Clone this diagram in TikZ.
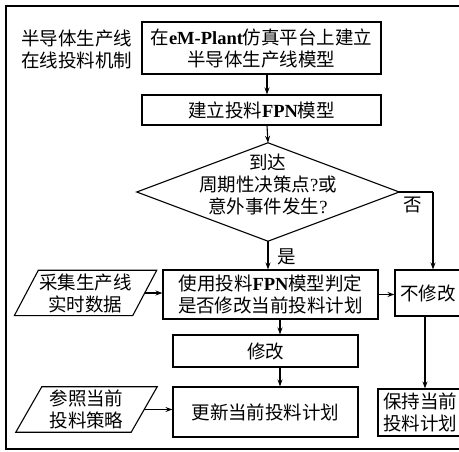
\documentclass[tikz,border=0pt]{standalone}
\usepackage{fontspec}
\setmainfont{Noto Sans CJK SC}
\newfontfamily\tnr{Liberation Serif}
\newcommand\lat[1]{{\tnr\bfseries #1}}
\newcommand\qm{{\tnr ?}}
\usetikzlibrary{arrows.meta}
\begin{document}
\begin{tikzpicture}[x=1pt,y=-1pt,
  every node/.style={font=\fontsize{18.5pt}{22pt}\selectfont, align=center, inner sep=0pt},
  box/.style={draw, line width=1.1pt, minimum width=#1},
  ln/.style={line width=1.1pt},
  arr/.style={line width=1.1pt, -{Stealth[length=7pt,width=5pt]}}]
\useasboundingbox (0,0) rectangle (459,452);
\clip (0,0) rectangle (459,452);
\draw[ln] (6,6) rectangle (470,449);

\node (lbl) at (77,49.5) {半导体生产线\\在线投料机制};
\node[box=239pt, minimum height=52pt] (b1) at (261.5,48) {在\lat{eM-Plant}仿真平台上建立\\半导体生产线模型};
\node[box=239pt, minimum height=30pt] (b2) at (261.5,110) {建立投料\lat{FPN}模型};
\node[minimum width=262pt, minimum height=98pt] (dia) at (268,192) {};
\draw[ln] (dia.north) -- (dia.east) -- (dia.south) -- (dia.west) -- cycle;
\node (dtx) at (268,185) {到达\\周期性决策点\qm 或\\意外事件发生\qm};
\node (no) at (413,205) {否};
\node (yes) at (287,257) {是};
\node[box=215pt, minimum height=49pt] (b3) at (270.5,294.5) {使用投料\lat{FPN}模型判定\\是否修改当前投料计划};
\node[minimum width=118pt, minimum height=45pt] (p1) at (85.5,293) {采集生产线\\实时数据};
\draw[ln] ([xshift=12pt]p1.north west) -- ([xshift=12pt]p1.north east) -- ([xshift=-12pt]p1.south east) -- ([xshift=-12pt]p1.south west) -- cycle;
\node[box=66pt, minimum height=46pt] (nx) at (428,293) {不修改};
\node[box=185pt, minimum height=32pt] (m) at (265.5,351) {修改};
\node[box=185pt, minimum height=50pt] (up) at (265.5,412) {更新当前投料计划};
\node[minimum width=115pt, minimum height=45pt] (p2) at (86.5,409.5) {参照当前\\投料策略};
\draw[ln] ([xshift=13pt]p2.north west) -- ([xshift=13pt]p2.north east) -- ([xshift=-13pt]p2.south east) -- ([xshift=-13pt]p2.south west) -- cycle;
\node[box=84pt, minimum height=47pt] (keep) at (420,412.5) {保持当前\\投料计划};

\coordinate (cx1) at (267,0);
\coordinate (cx2) at (280,0);
\coordinate (cx3) at (433,0);
\coordinate (cx4) at (425,0);
\draw[arr] (b1.south -| cx1) -- (b2.north -| cx1);
\draw[arr] (b2.south -| cx1) -- (dia.north);
\draw[arr] (dia.south) -- (dia.south |- b3.north);
\draw[ln] (dia.east) -- (dia.east -| cx3);
\draw[arr] (dia.east -| cx3) -- (nx.north -| cx3);
\draw[arr] (p1.east) -- (p1.east -| b3.west);
\draw[arr] (b3.east) -- (b3.east -| nx.west);
\draw[arr] (b3.south -| cx2) -- (m.north -| cx2);
\draw[arr] (m.south -| cx2) -- (up.north -| cx2);
\draw[arr] (p2.east) -- (p2.east -| up.west);
\draw[arr] (nx.south -| cx4) -- (keep.north -| cx4);
\end{tikzpicture}
\end{document}
